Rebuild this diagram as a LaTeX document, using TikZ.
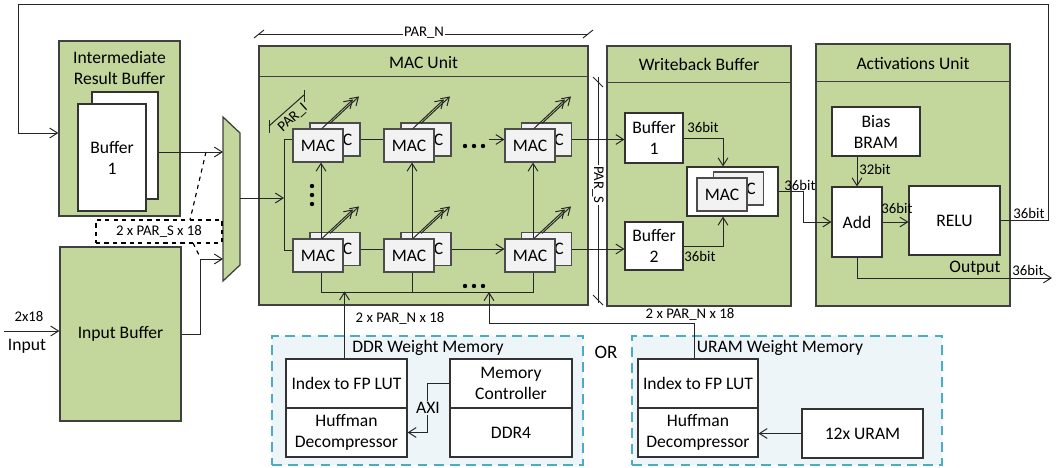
\documentclass[tikz,border=0pt]{standalone}
\usepackage{fontspec}
\setmainfont{Carlito}
\usetikzlibrary{arrows.meta,calc}
\definecolor{unitgreen}{HTML}{C3D69B}
\definecolor{memblue}{HTML}{4BACC6}
\definecolor{memfill}{HTML}{EEF5F8}
\definecolor{macgray}{HTML}{F2F2F2}

\begin{document}
\begin{tikzpicture}[x=0.025cm, y=-0.025cm,
    wh/.style 2 args={minimum width=#1*0.025cm, minimum height=#2*0.025cm},
    unit/.style={draw=black!75, fill=unitgreen, line width=0.9pt, inner sep=0pt},
    unitline/.style={draw=black!75, line width=0.9pt},
    blk/.style={draw=black!80, fill=white, line width=0.8pt, align=center, inner sep=0pt},
    mac/.style={draw=black!70, fill=macgray, line width=0.8pt, wh={50}{33}, inner sep=0pt},
    mem/.style={draw=memblue, fill=memfill, line width=1.8pt, dash pattern=on 7pt off 4.5pt, inner sep=0pt},
    lbl/.style={font=\fontsize{10.5}{12}\selectfont, inner sep=1pt},
    wire/.style={draw=black!85, line width=0.7pt},
    >={Straight Barb[length=5.5pt,width=7pt]},
    every node/.append style={font=\fontsize{12.5}{15}\selectfont}]
  \useasboundingbox (0,0) rectangle (1058,467);

  \node[unit, wh={121}{175}] (irb) at (119.5,128.5) {};
  \node[align=center] (irbT) at (119.5,68) {Intermediate\\Result Buffer};
  \node[blk, wh={66}{107}] (buf1b) at (125,145.5) {};
  \node[blk, wh={68}{107}] (buf1) at (112,157.5) {Buffer\\1};
  \node[unit, wh={121}{174}] (inb) at (120.5,334) {Input Buffer};

  \node[unit, wh={329}{259}] (macu) at (423.5,175.5) {};
  \draw[unitline] ($(macu.north west)+(0,31)$) -- ($(macu.north east)+(0,31)$);
  \node (macuT) at (423.5,63) {MAC Unit};
  \node[unit, wh={184}{260}] (wbb) at (699,176) {};
  \draw[unitline] ($(wbb.north west)+(0,37)$) -- ($(wbb.north east)+(0,37)$);
  \node (wbbT) at (699,64) {Writeback Buffer};
  \node[unit, wh={194}{262}] (act) at (913,175) {};
  \draw[unitline] ($(act.north west)+(0,38)$) -- ($(act.north east)+(0,38)$);
  \node (actT) at (913,63) {Activations Unit};

  \draw[unit] (223,117) -- (240,133) -- (240,265) -- (223,281) -- cycle;
  \coordinate (muxA) at (223,152);
  \coordinate (muxB) at (223,259);
  \coordinate (muxO) at (240,198);
  \node[draw=black, dashed, line width=0.8pt, fill=white, wh={126}{23}, lbl] (pars) at (159,231.5) {2 x PAR\_S x 18};
  \draw[dashed, line width=0.8pt] (206,152) -- (190,220);
  \draw[dashed, line width=0.8pt] (193,243) -- (200,257);

  \coordinate (fb) at (18,133);
  \coordinate (inp) at (4,331);
  \draw[wire,->] (buf1b.east |- muxA) -- (muxA);
  \draw[wire,->] (inb.east) -- ++(19,0) |- (muxB);
  \draw[wire,->] (inp) -- (inp -| inb.west);
  \node[lbl] (inw) at (29,317) {2x18};
  \node (inT) at (27,346) {Input};

  \node[mac] (m11b) at (335,139.5) {MAC};
  \node[mac] (m11) at (318,145.5) {MAC};
  \node[mac] (m12b) at (426,139.5) {MAC};
  \node[mac] (m12) at (409,145.5) {MAC};
  \node[mac] (m13b) at (546.5,139.5) {MAC};
  \node[mac] (m13) at (530,145.5) {MAC};
  \node[mac] (m21b) at (335,249) {MAC};
  \node[mac] (m21) at (318,255.5) {MAC};
  \node[mac] (m22b) at (426,249) {MAC};
  \node[mac] (m22) at (409,255.5) {MAC};
  \node[mac] (m23b) at (546.5,249) {MAC};
  \node[mac] (m23) at (530,255.5) {MAC};
  \foreach \m in {m11,m12,m13,m21,m22,m23} {
    \draw[wire,->] ($(\m.north)+(4,0)$) -- ++(31,-29);
    \draw[wire,->] ($(\m.north)+(12,-5)$) -- ++(29,-27);
  }

  \coordinate (lb1) at (284,139.5);
  \coordinate (lb2) at (284,250);
  \coordinate (dt1) at (489,139.5);
  \draw[wire] (lb1) -- (lb2);
  \draw[wire,->] (muxO) -- (muxO -| lb1);
  \draw[wire] (lb1) -- (lb1 -| m11.west);
  \draw[wire] (lb2) -- (lb2 -| m21.west);
  \draw[wire] (m11b.east) -- (m11b.east -| m12.west);
  \draw[wire,->] (dt1) -- (dt1 -| m13.west);
  \draw[wire] (m21b.east) -- (m21b.east -| m22.west);
  \draw[wire,->] (m22b.east) -- (m22b.east -| m23.west);
  \draw[wire,->] ($(m21.north)+(3,0)$) -- ($(m11.south)+(3,0)$);
  \draw[wire,->] ($(m22.north)+(3,0)$) -- ($(m12.south)+(3,0)$);
  \draw[wire,->] ($(m23.north)+(3,0)$) -- ($(m13.south)+(3,0)$);
  \draw[wire] ($(m21.south)+(3,0)$) -- ++(0,20) -| ($(m23.south)+(3,0)$);
  \draw[wire] ($(m22.south)+(3,0)$) -- ++(0,20);
  \foreach \y in {186,195,204} \fill (312,\y) circle (2.2);
  \foreach \x in {465,474,483} {
    \fill (\x,146) circle (2.2);
    \fill (\x,286) circle (2.2);
  }

  \draw[wire] (259,34) -- (588,34);
  \draw[wire] (254,38) -- (264,30);
  \draw[wire] (583,38) -- (593,30);
  \node[lbl, fill=white] (parn) at (424,33) {PAR\_N};
  \draw[wire] (598,77) -- (598,303);
  \draw[wire] (593,77) -- (603,87);
  \draw[wire] (593,295) -- (603,305);
  \node[lbl, fill=white, rotate=-90] (pars2) at (598,185) {PAR\_S};
  \draw[wire] (269,126) -- (304,95);
  \draw[wire] (269,120) -- (269,133);
  \draw[wire] (304,90) -- (304,102);
  \node[lbl, rotate=42, inner sep=0pt] (pari) at (293,118) {PAR\_I};

  \node[blk, wh={58}{50}] (wb1) at (654,138) {Buffer\\1};
  \node[blk, wh={58}{48}] (wb2) at (654,246) {Buffer\\2};
  \node[blk, wh={91}{49}] (wbm) at (732.5,191.5) {};
  \node[mac] (wbmb) at (738.5,188.5) {MAC};
  \node[mac] (wbmf) at (722,194.5) {MAC};
  \draw[wire,->] (m13b.east) -- (m13b.east -| wb1.west);
  \draw[wire,->] (m23b.east) -- (m23b.east -| wb2.west);
  \draw[wire,->] (wb1.east) -| ($(wbm.north)+(-9.5,0)$);
  \draw[wire,->] (wb2.east) -| ($(wbm.south)+(-9.5,0)$);
  \node[lbl] (w1) at (703,127) {36bit};
  \node[lbl] (w2) at (700,256) {36bit};

  \node[blk, wh={88}{49}] (bias) at (876,131.5) {Bias\\BRAM};
  \node[blk, wh={50}{70}] (add) at (857,222) {Add};
  \node[blk, wh={91}{69}] (relu) at (954.5,220.5) {RELU};
  \draw[wire,->] (wbm.east) -- ++(25,0) |- (add.west);
  \node[lbl] (w3) at (800,185) {36bit};
  \draw[wire,->] (add.north |- bias.south) -- (add.north);
  \node[lbl] (w4) at (875,169) {32bit};
  \draw[wire,->] (add.east) -- (add.east -| relu.west);
  \node[lbl] (w5) at (897,208) {36bit};
  \coordinate (outp) at (1052,278);
  \draw[wire,->] (add.south) |- (outp);
  \node (outT) at (975,268) {Output};
  \node[lbl] (w6) at (1028,270) {36bit};
  \draw[wire,->] (relu.east) -| (1048,4) -| (fb) -- (fb -| irb.west);
  \node[lbl] (w7) at (1029,213) {36bit};

  \node[mem, wh={311}{129}] (ddr) at (427.5,400.5) {};
  \node (ddrT) at (428,348) {DDR Weight Memory};
  \node[blk, wh={121}{49}] (lut1) at (346.5,383.5) {Index to FP LUT};
  \node[blk, wh={121}{49}] (huf1) at (346.5,432.5) {Huffman\\Decompressor};
  \node[blk, wh={122}{49}] (mc) at (511,383.5) {Memory\\Controller};
  \node[blk, wh={122}{49}] (ddr4) at (511,432.5) {DDR4};
  \draw[wire,->] (mc.west) -- ++(-22,0) |- (huf1.east);
  \node[fill=memfill, inner sep=1pt] (axi) at (428,408) {AXI};

  \node[font=\fontsize{13.5}{16}\selectfont] (or) at (606,352) {OR};

  \node[mem, wh={310}{129}] (uram) at (787,400.5) {};
  \node (uramT) at (780,348) {URAM Weight Memory};
  \node[blk, wh={120}{49}] (lut2) at (698,383.5) {Index to FP LUT};
  \node[blk, wh={120}{49}] (huf2) at (698,432.5) {Huffman\\Decompressor};
  \node[blk, wh={121}{49}] (ur12) at (862.5,433.5) {12x URAM};
  \draw[wire,->] (ur12.west) -- (ur12.west -| huf2.east);

  \draw[wire,->] ($(lut1.north)+(-2,0)$) -- ++(0,-67);
  \node[lbl] (parn1) at (400,318) {2 x PAR\_N x 18};
  \draw[wire,->] ($(lut2.north)+(-4,0)$) -- ++(0,-35) -| (489,292);
  \node[lbl] (parn2) at (690,314) {2 x PAR\_N x 18};
\end{tikzpicture}
\end{document}
